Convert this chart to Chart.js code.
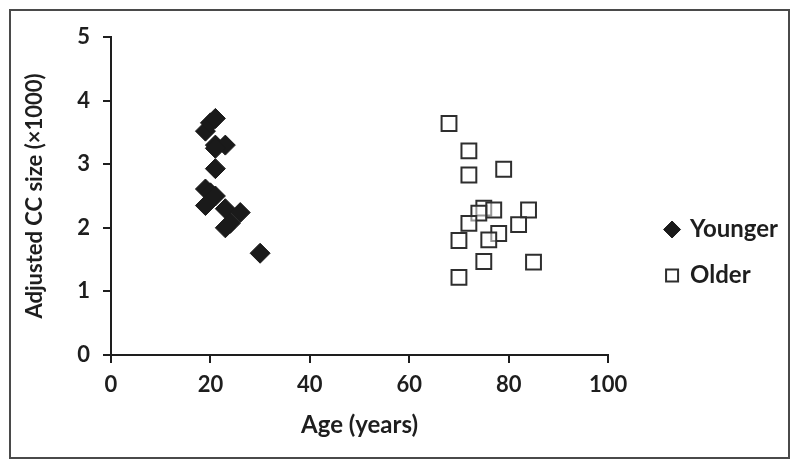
<!DOCTYPE html>
<html>
<head>
<meta charset="utf-8">
<script src="https://cdn.jsdelivr.net/npm/chart.js@4/dist/chart.umd.min.js"></script>
<style>
    body { margin: 0; background: #fff; }
    .wrap { position: relative; width: 800px; height: 468px; }
    canvas { position: absolute; left: 0; top: 0; }
    .frame { position: absolute; left: 9px; top: 9px; width: 781px; height: 450px; box-sizing: border-box; border: 2px solid #4a4a4a; pointer-events: none; }
</style>
</head>
<body>
<div class="wrap">
    <canvas id="chart" width="800" height="468"></canvas>
    <div class="frame"></div>
</div>
<script>
// Younger group: age (years), adjusted CC size (x1000)
const youngerAge  = [19, 20, 21, 21, 23, 21, 21, 19, 20, 21, 19, 23, 26, 23, 24, 30];
const youngerSize = [3.52, 3.65, 3.72, 3.30, 3.30, 3.25, 2.93, 2.61, 2.55, 2.50, 2.35, 2.30, 2.24, 2.00, 2.07, 1.60];

// Older group
const olderAge  = [68, 72, 72, 79, 75, 77, 74, 84, 72, 82, 78, 70, 76, 75, 85, 70];
const olderSize = [3.64, 3.21, 2.83, 2.92, 2.31, 2.28, 2.23, 2.28, 2.07, 2.05, 1.91, 1.80, 1.81, 1.47, 1.46, 1.22];

const xTicks = [0, 20, 40, 60, 80, 100];
const yTicks = [0, 1, 2, 3, 4, 5];

const toPoints = (xs, ys) => xs.map((x, i) => ({ x: x, y: ys[i] }));

const font = 'Lato, "Open Sans", sans-serif';
const ink = '#1e1e1e';
const ctx = document.getElementById('chart').getContext('2d');

const myChart = new Chart(ctx, {
    type: 'scatter',
    data: {
        datasets: [
            {
                label: 'Younger',
                data: toPoints(youngerAge, youngerSize),
                pointStyle: 'rectRot',
                pointRadius: 10,
                pointHoverRadius: 10,
                backgroundColor: '#1a1a1a',
                borderColor: '#1a1a1a',
                borderWidth: 1,
            }, {
                label: 'Older',
                data: toPoints(olderAge, olderSize),
                pointStyle: 'rect',
                pointRadius: 10.5,
                pointHoverRadius: 10.5,
                backgroundColor: 'rgba(255,255,255,0.5)',
                borderColor: '#2e2e2e',
                borderWidth: 2,
            },
        ]
    },
    options: {
        responsive: false,
        animation: false,
        layout: { padding: { top: 37, right: 12, left: 0, bottom: 0 } },
        scales: {
            x: {
                type: 'linear',
                min: 0,
                max: 100,
                afterBuildTicks: (s) => { s.ticks = xTicks.map((v) => ({ value: v })); },
                afterFit: (s) => { s.height = 113; },
                grid: { drawOnChartArea: false, drawTicks: true, tickLength: 8, color: ink, lineWidth: 2 },
                border: { color: ink, width: 2 },
                ticks: { color: ink, font: { family: font, size: 22, weight: 'bold' }, padding: 9 },
                title: { display: true, text: 'Age (years)', color: ink, font: { family: font, size: 24, weight: 'bold' }, padding: { top: 0, bottom: 28 } },
            },
            y: {
                type: 'linear',
                min: 0,
                max: 5,
                afterBuildTicks: (s) => { s.ticks = yTicks.map((v) => ({ value: v })); },
                afterFit: (s) => { s.width = 111; },
                grid: { drawOnChartArea: false, drawTicks: true, tickLength: 8, color: ink, lineWidth: 2 },
                border: { color: ink, width: 2 },
                ticks: { color: ink, font: { family: font, size: 22, weight: 'bold' }, padding: 13 },
                title: { display: true, text: 'Adjusted CC size (×1000)', color: ink, font: { family: font, size: 22, weight: 'bold' }, padding: { top: 22, bottom: 0 } },
            },
            // empty spacer between the plot and the legend
            gap: {
                type: 'linear',
                position: 'right',
                display: true,
                afterFit: (s) => { s.width = 36; },
                grid: { display: false },
                border: { display: false },
                ticks: { display: false },
            },
        },
        plugins: {
            tooltip: { enabled: false },
            legend: {
                position: 'right',
                maxWidth: 180,
                labels: {
                    usePointStyle: true,
                    color: ink,
                    font: { family: font, size: 24, weight: 'bold' },
                    padding: 22,
                    boxWidth: 12,
                    boxHeight: 12,
                },
            },
        },
    },
});
</script>
</body>
</html>
